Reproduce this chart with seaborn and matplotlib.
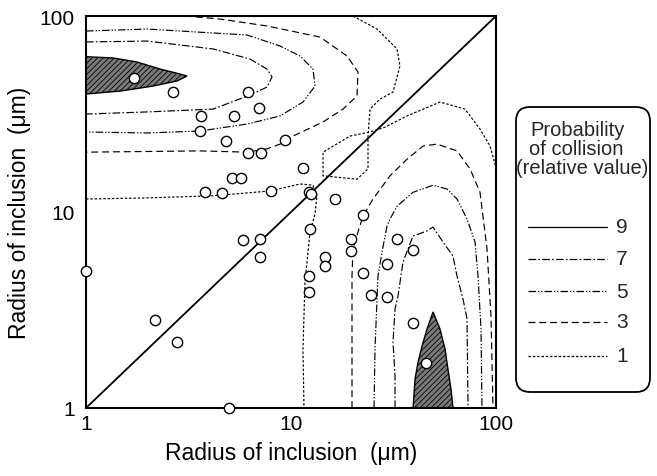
import matplotlib
matplotlib.use("Agg")
import matplotlib.pyplot as plt
import seaborn as sns
from matplotlib.patches import FancyBboxPatch
from matplotlib.lines import Line2D

# ---------------- data (radius in µm) ----------------
pts_x = [1.72, 2.67, 6.2, 7.0, 3.65, 5.3, 3.6, 4.8, 6.2, 7.1, 9.4, 11.4, 5.15, 5.7,
         3.8, 4.6, 8.0, 12.2, 12.5, 16.4, 22.5, 12.4, 19.6, 19.6, 32.8, 39.2, 14.7,
         14.7, 22.5, 29.3, 12.2, 12.2, 24.6, 29.3, 39.2, 45.4, 1.0, 5.85, 7.06, 7.06,
         2.17, 2.78, 5.0]
pts_y = [48, 41, 41, 34, 31, 31, 26, 23, 20, 20, 23.4, 16.7, 14.9, 14.9,
         12.6, 12.5, 12.8, 12.7, 12.3, 11.6, 9.7, 8.2, 7.3, 6.35, 7.3, 6.4, 5.9,
         5.3, 4.9, 5.4, 4.7, 3.9, 3.75, 3.7, 2.7, 1.7, 5.0, 7.2, 7.3, 5.9,
         2.8, 2.16, 1.0]

diag_x = [1, 100]
diag_y = [1, 100]

# level 9 (shaded maxima)
ul9_x = [1, 1.35, 1.77, 2.30, 2.87, 3.11, 2.78, 2.12, 1.47, 1]
ul9_y = [62, 61.1, 58.3, 53.6, 50.6, 49.4, 46.6, 43.9, 41.4, 40.0]
lr9_x = [39.4, 40.3, 41.7, 43.6, 46.1, 49.3, 53.3, 56.4, 58.3, 60.3, 61.7]
lr9_y = [1, 1.41, 1.72, 2.07, 2.53, 3.09, 2.53, 2.0, 1.58, 1.25, 1]

# level 7
ul7_x = [1, 1.99, 4.17, 6.31, 7.64, 8.08, 7.64, 6.31, 4.17, 1.99, 1]
ul7_y = [73.7, 74.5, 67.9, 60.3, 53.6, 48.9, 43.4, 39.5, 33.5, 32.4, 31.6]
lr7_x = [32.17, 32.17, 31.45, 32.17, 33.27, 35.19, 39.37, 46.07, 49.28, 55.14,
         61.69, 64.53, 69.03, 72.21, 73.03]
lr7_y = [1, 1.46, 2.17, 3.2, 3.73, 5.56, 7.54, 8.0, 8.38, 7.03,
         5.96, 4.72, 3.6, 2.85, 1]

# level 5
ul5_x = [1, 1.99, 4.17, 6.10, 8.84, 11.07, 12.8, 13.1, 11.44, 8.84, 6.10, 3.60, 1.99, 1]
ul5_y = [83.8, 85.8, 81.9, 80.0, 70.3, 62.5, 53.6, 43.9, 36.4, 30.9, 28.1, 25.9, 25.3, 25.6]
lr5_x = [25.41, 25.69, 26.28, 26.57, 27.80, 29.40, 30.41, 32.9, 39.37, 49.28,
         57.68, 64.53, 72.21, 79.01, 81.71, 84.5, 85.45]
lr5_y = [1, 2.0, 3.6, 4.72, 6.25, 8.48, 9.21, 10.7, 12.6, 13.7,
         13.1, 11.65, 9.21, 7.03, 4.72, 2.53, 1]

# level 3
ul3_x = [3.04, 4.51, 7.64, 13.85, 18.76, 21.22, 20.99, 17.93, 14.33, 10.23,
         8.84, 7.64, 6.10, 3.60, 1]
ul3_y = [100, 96.5, 88.9, 78.1, 62.5, 51.8, 39.1, 33.5, 28.8, 24.4,
         22.2, 21.0, 20.2, 20.5, 20.2]
lr3_x = [19.84, 19.84, 19.84, 20.06, 21.22, 22.45, 25.12, 30.41, 36.81, 44.05,
         51.54, 64.53, 74.70, 83.56, 90.39, 94.53, 96.69]
lr3_y = [1, 2.85, 4.72, 6.48, 7.91, 9.54, 11.65, 15.3, 18.6, 21.7,
         22.2, 20.5, 16.6, 12.6, 6.48, 2.95, 1]

# level 1
ll1_x = [1, 1.99, 4.17, 7.90, 11.07, 12.8, 13.39, 13.1, 12.38, 11.70, 11.44, 11.57]
ll1_y = [11.65, 11.8, 12.1, 12.8, 13.9, 13.7, 12.1, 9.77, 7.91, 4.39, 2.0, 1]
ur1_x = [20.06, 26.28, 32.9, 34.0, 31.45, 27.18, 24.29, 23.75, 23.75, 20.99, 14.33,
         14.33, 19.40, 24.29, 28.75, 36.81, 53.31, 70.6, 83.56, 93.48, 98.88, 100]
ur1_y = [100, 85.8, 67.9, 55.6, 40.9, 37.7, 33.5, 24.4, 16.6, 14.7, 15.3,
         20.2, 24.4, 25.6, 27.1, 30.9, 36.4, 33.5, 26.5, 21.7, 17.6, 16.5]

levels = [9, 7, 5, 3, 1]
tick_vals = [1, 10, 100]
tick_labels = ["1", "10", "100"]
axis_label = "Radius of inclusion  (μm)"
legend_title = ["Probability", "of collision", "(relative value)"]

# ---------------- style ----------------
sns.set_theme(style="white")
plt.rcParams['font.family'] = ['Liberation Sans', 'DejaVu Sans']
plt.rcParams['lines.scale_dashes'] = False
plt.rcParams['hatch.linewidth'] = 0.6

styles = {9: '-',
          7: (0, (5.5, 1.6, 1.2, 1.6)),
          5: (0, (5.5, 1.4, 1.0, 1.2, 1.0, 1.4)),
          3: (0, (5.0, 2.8)),
          1: (0, (1.8, 1.3))}

W, H = 657, 477
fig = plt.figure(figsize=(W / 100, H / 100), dpi=100)
ax = fig.add_axes([86 / W, 68 / H, 410 / W, 392 / H])
ax.set_xscale('log')
ax.set_yscale('log')
ax.set_xlim(1, 100)
ax.set_ylim(1, 100)

# shaded maxima
for fx, fy in [(ul9_x, ul9_y), (lr9_x, lr9_y)]:
    ax.fill(fx, fy, facecolor='#7a7a7a', edgecolor='black', hatch='//////', lw=1.0, zorder=2)

contours = [(ul7_x, ul7_y, 7), (lr7_x, lr7_y, 7), (ul5_x, ul5_y, 5), (lr5_x, lr5_y, 5),
            (ul3_x, ul3_y, 3), (lr3_x, lr3_y, 3), (ll1_x, ll1_y, 1), (ur1_x, ur1_y, 1)]
for cx, cy, lv in contours:
    ax.plot(cx, cy, color='black', lw=0.85, linestyle=styles[lv], zorder=2)

sns.lineplot(x=diag_x, y=diag_y, color='black', lw=1.3, ax=ax, zorder=3)

sns.scatterplot(x=pts_x, y=pts_y, s=55, color='white', edgecolor='black',
                linewidth=1.0, ax=ax, zorder=5, clip_on=False)

ax.set_xticks(tick_vals, labels=tick_labels)
ax.set_yticks(tick_vals, labels=tick_labels)
ax.tick_params(which='both', direction='in', top=False, right=False,
               color='black', labelsize=15, labelcolor='black')
ax.tick_params(which='major', length=8, width=1.0)
ax.tick_params(which='minor', length=6, width=0.9)
ax.tick_params(axis='x', which='major', pad=4)
ax.tick_params(axis='y', which='major', pad=8)
for sp in ax.spines.values():
    sp.set_linewidth(1.5)
    sp.set_color('black')
    sp.set_visible(True)

ax.set_xlabel(axis_label, fontsize=16.5, color='black')
ax.set_ylabel(axis_label, fontsize=16.5, color='black')
ax.xaxis.set_label_coords(0.5, -0.085)
ax.yaxis.set_label_coords(-0.135, 0.5)

# ---------------- legend box ----------------
box = FancyBboxPatch((5.16, 0.84), 1.34, 2.85,
                     boxstyle='round,pad=0,rounding_size=0.14',
                     transform=fig.dpi_scale_trans, fill=False, lw=1.3, ec='black')
fig.add_artist(box)
fig.text(530 / W, 1 - 130 / H, legend_title[0], fontsize=14.5, ha='left', va='center')
fig.text(529 / W, 1 - 150 / H, legend_title[1], fontsize=14.5, ha='left', va='center')
fig.text(516 / W, 1 - 169 / H, legend_title[2], fontsize=14.5, ha='left', va='center')
leg_y = [228, 260, 292, 323, 357]
for lv, py in zip(levels, leg_y):
    yy = 1 - py / H
    fig.add_artist(Line2D([528 / W, 607 / W], [yy, yy], transform=fig.transFigure,
                          color='black', lw=0.9, linestyle=styles[lv]))
    fig.text(616 / W, yy, str(lv), fontsize=15, ha='left', va='center')

fig.savefig('out.png', dpi=100)
